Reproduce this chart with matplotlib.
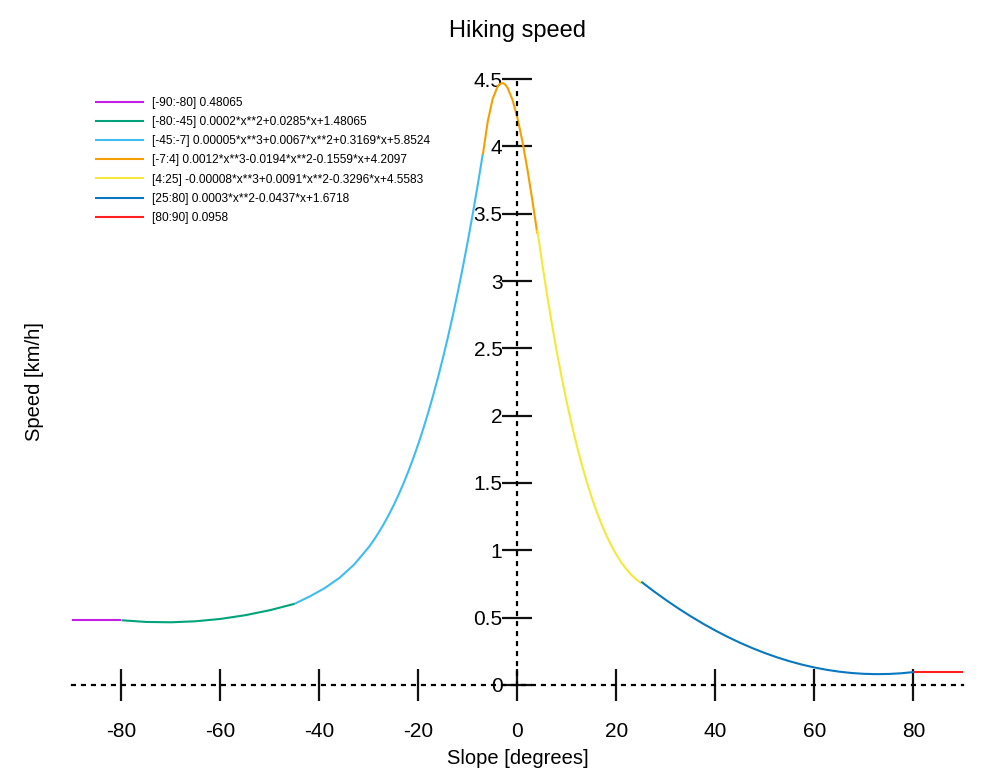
import matplotlib
matplotlib.use("Agg")
import matplotlib.pyplot as plt

plt.rcParams['font.family'] = ['Liberation Sans', 'DejaVu Sans']
plt.rcParams['axes.unicode_minus'] = False

# values, one list pair per slope range
x_steep_down = [-90, -80]
y_steep_down = [0.4807, 0.4807]

x_down = [-80, -75, -70, -65, -60, -55, -50, -45]
y_down = [0.4807, 0.4681, 0.4656, 0.4731, 0.4906, 0.5181, 0.5556, 0.6032]

x_mid_down = [-45, -42, -39, -36, -33, -30, -29, -28, -27, -26, -25, -24, -23, -22, -21, -20,
              -19, -18, -17, -16, -15, -14, -13, -12, -11, -10, -9, -8, -7]
y_mid_down = [0.6034, 0.6570, 0.7181, 0.7944, 0.8942, 1.0254, 1.0776, 1.1344, 1.1962, 1.2634,
              1.3362, 1.4148, 1.4997, 1.5910, 1.6891, 1.7944, 1.9071, 2.0274, 2.1556, 2.2924,
              2.4377, 2.5918, 2.7551, 2.9280, 3.1107, 3.3034, 3.5066, 3.7204, 3.9453]

x_flat = [-7, -6, -5, -4, -3.5, -3, -2.5, -2, -1, 0, 1, 2, 3, 4]
y_flat = [3.9388, 4.1875, 4.3542, 4.4461, 4.4651, 4.4704, 4.4592, 4.4343, 4.3450, 4.2097,
          4.0356, 3.8299, 3.5998, 3.3525]

x_up = [4, 5, 6, 7, 8, 9, 10, 11, 12, 13, 14, 15, 16, 17, 18, 19, 20, 21, 22, 23, 24, 25]
y_up = [3.3803, 3.1278, 2.8910, 2.6696, 2.4629, 2.2707, 2.0923, 1.9274, 1.7753, 1.6356, 1.5080,
        1.3918, 1.2866, 1.1920, 1.1073, 1.0323, 0.9663, 0.9089, 0.8597, 0.8180, 0.7836, 0.7558]

x_mid_up = [25, 27.5, 30, 32.5, 35, 37.5, 40, 42.5, 45, 47.5, 50, 52.5, 55, 57.5, 60, 62.5,
            65, 67.5, 70, 72.5, 75, 77.5, 80]
y_mid_up = [0.7668, 0.6969, 0.6308, 0.5684, 0.5098, 0.4549, 0.4038, 0.3564, 0.3128, 0.2729,
            0.2368, 0.2044, 0.1758, 0.1509, 0.1298, 0.1124, 0.0988, 0.0889, 0.0828, 0.0804,
            0.0818, 0.0869, 0.0958]

x_steep_up = [80, 90]
y_steep_up = [0.0958, 0.0958]

labels = [
    "[-90:-80] 0.48065",
    "[-80:-45] 0.0002*x**2+0.0285*x+1.48065",
    "[-45:-7] 0.00005*x**3+0.0067*x**2+0.3169*x+5.8524",
    "[-7:4] 0.0012*x**3-0.0194*x**2-0.1559*x+4.2097",
    "[4:25] -0.00008*x**3+0.0091*x**2-0.3296*x+4.5583",
    "[25:80] 0.0003*x**2-0.0437*x+1.6718",
    "[80:90] 0.0958",
]
colors = ['#c41ee6', '#00a37a', '#3fbcf0', '#f5a000', '#f5e83a', '#0a78c0', '#ff2020']

xticks = [-80, -60, -40, -20, 0, 20, 40, 60, 80]
yticks = [0, 0.5, 1, 1.5, 2, 2.5, 3, 3.5, 4, 4.5]
yticklabels = ['0', '0.5', '1', '1.5', '2', '2.5', '3', '3.5', '4', '4.5']

fig = plt.figure(figsize=(9.89, 7.68), dpi=100)
ax = fig.add_axes([0.0728, 0.1081, 0.9009, 0.7890])

segments = [(x_steep_down, y_steep_down), (x_down, y_down), (x_mid_down, y_mid_down),
            (x_flat, y_flat), (x_up, y_up), (x_mid_up, y_mid_up), (x_steep_up, y_steep_up)]
for (xs, ys), c, lab in zip(segments, colors, labels):
    ax.plot(xs, ys, color=c, lw=1.5, label=lab, solid_capstyle='butt')

ax.set_xlim(-90, 90)
ax.set_ylim(0, 4.5)

ax.spines['top'].set_visible(False)
ax.spines['right'].set_visible(False)
ax.spines['left'].set_position(('data', 0))
for s in ['left', 'bottom']:
    ax.spines[s].set_linestyle((0, (1.3, 3.2)))
    ax.spines[s].set_linewidth(1.6)
    ax.spines[s].set_color('black')

ax.set_xticks(xticks)
ax.set_yticks(yticks)
ax.set_yticklabels(yticklabels)
ax.tick_params(axis='x', direction='inout', length=23, width=1.6, color='#111111',
               labelsize=15, pad=15)
ax.tick_params(axis='y', direction='inout', length=21.6, width=1.6, color='#111111',
               labelsize=15, pad=0)

ax.set_title("Hiking speed", fontsize=17, pad=30)
ax.set_xlabel("Slope [degrees]", fontsize=14.5)
ax.xaxis.set_label_coords(0.5, -0.105)
ax.set_ylabel("Speed [km/h]", fontsize=14.5)
ax.yaxis.set_label_coords(-0.031, 0.5)

ax.legend(loc='upper left', bbox_to_anchor=(95 / 989, 1 - 97 / 768),
          bbox_transform=fig.transFigure, frameon=False, fontsize=8.6,
          handlelength=4.1, handletextpad=0.7, labelspacing=0.6, borderpad=0,
          borderaxespad=0)

fig.savefig("out.png", dpi=100)
